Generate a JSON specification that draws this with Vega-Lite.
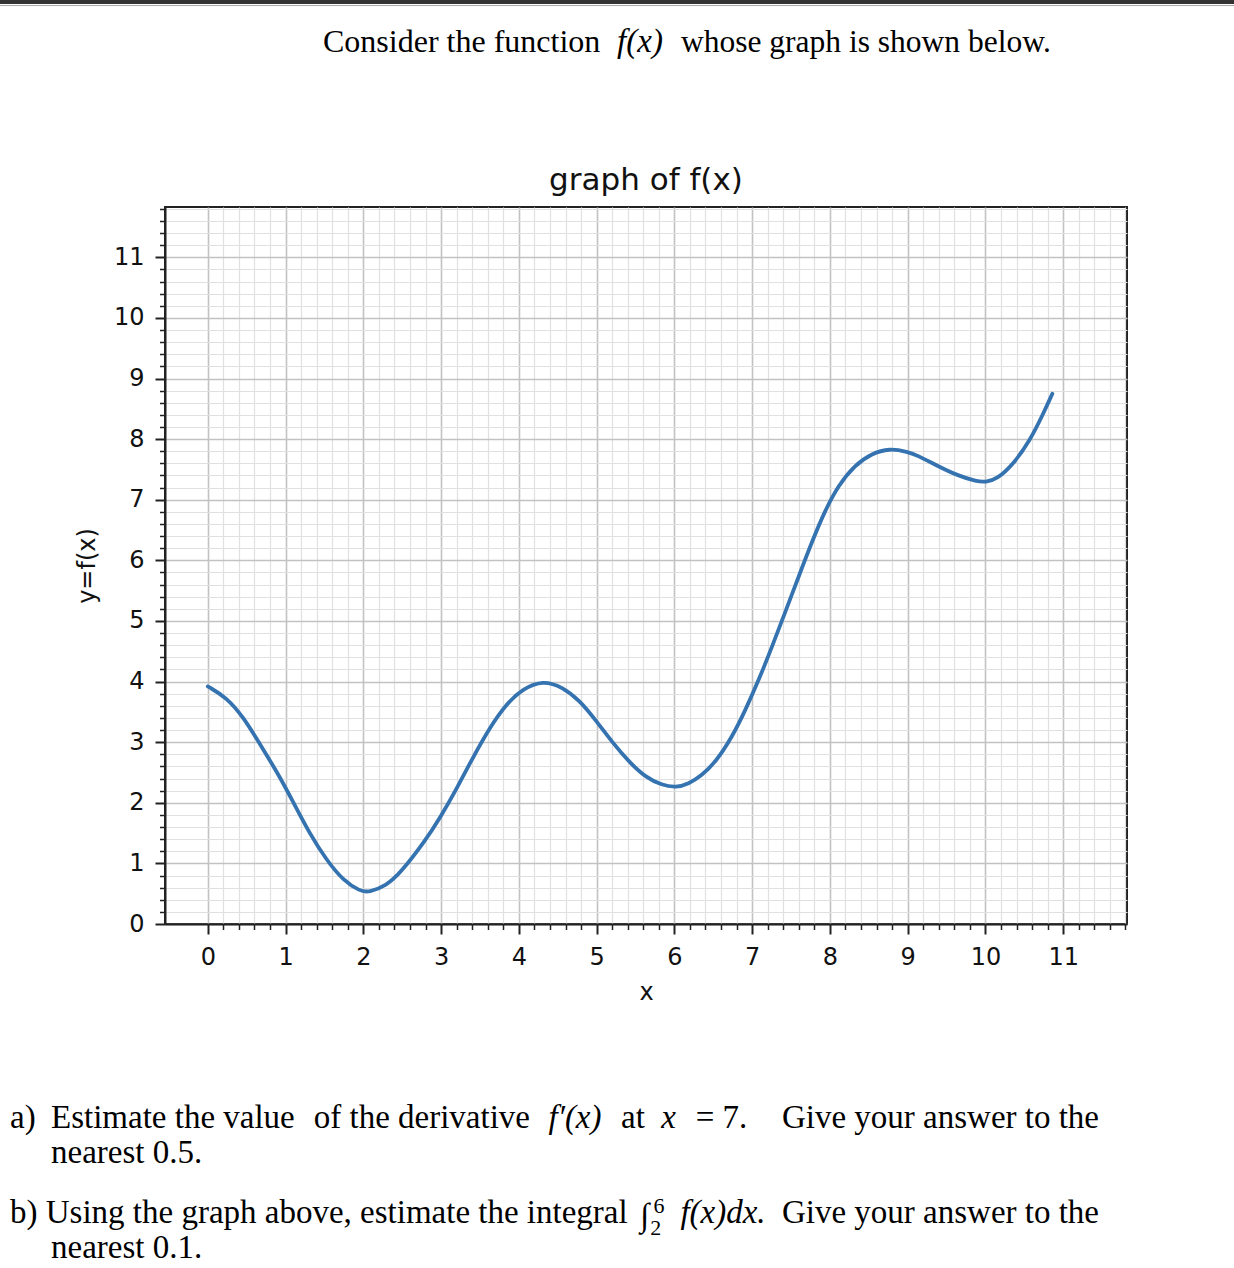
{
  "$schema": "https://vega.github.io/schema/vega-lite/v6.json",
  "width": 962,
  "height": 717,
  "autosize": {"type": "none"},
  "padding": {"left": 165, "top": 207, "right": 107, "bottom": 344},
  "background": "white",
  "config": {"view": {"stroke": "#222222", "strokeWidth": 2}},
  "datasets": {
    "curve": [
      {"x": 0.00, "y": 3.92}, {"x": 0.24, "y": 3.74}, {"x": 0.46, "y": 3.41}, {"x": 0.67, "y": 2.97},
      {"x": 0.89, "y": 2.51}, {"x": 1.10, "y": 2.01}, {"x": 1.31, "y": 1.49}, {"x": 1.53, "y": 1.05},
      {"x": 1.74, "y": 0.72}, {"x": 1.96, "y": 0.54}, {"x": 2.07, "y": 0.52}, {"x": 2.30, "y": 0.64},
      {"x": 2.47, "y": 0.83}, {"x": 2.80, "y": 1.38}, {"x": 2.99, "y": 1.76}, {"x": 3.20, "y": 2.23},
      {"x": 3.41, "y": 2.75}, {"x": 3.63, "y": 3.25}, {"x": 3.84, "y": 3.63}, {"x": 4.05, "y": 3.88},
      {"x": 4.31, "y": 4.02}, {"x": 4.56, "y": 3.91}, {"x": 4.78, "y": 3.69}, {"x": 4.99, "y": 3.36},
      {"x": 5.20, "y": 3.00}, {"x": 5.42, "y": 2.67}, {"x": 5.63, "y": 2.42}, {"x": 5.84, "y": 2.29},
      {"x": 6.02, "y": 2.25}, {"x": 6.18, "y": 2.31}, {"x": 6.35, "y": 2.45}, {"x": 6.53, "y": 2.67},
      {"x": 6.74, "y": 3.08}, {"x": 6.91, "y": 3.52}, {"x": 7.09, "y": 4.04}, {"x": 7.26, "y": 4.59},
      {"x": 7.43, "y": 5.16}, {"x": 7.60, "y": 5.74}, {"x": 7.77, "y": 6.31}, {"x": 7.94, "y": 6.83},
      {"x": 8.11, "y": 7.24}, {"x": 8.32, "y": 7.57}, {"x": 8.53, "y": 7.76}, {"x": 8.77, "y": 7.85},
      {"x": 9.00, "y": 7.79}, {"x": 9.13, "y": 7.73}, {"x": 9.38, "y": 7.56}, {"x": 9.64, "y": 7.40},
      {"x": 9.89, "y": 7.30}, {"x": 10.00, "y": 7.29}, {"x": 10.15, "y": 7.34}, {"x": 10.36, "y": 7.59},
      {"x": 10.57, "y": 7.97}, {"x": 10.74, "y": 8.41}, {"x": 10.86, "y": 8.75}
    ]
  },
  "layer": [
    {
      "data": {"name": "curve"},
      "mark": {"type": "line", "interpolate": "basis", "color": "#3573b0", "strokeWidth": 3.8, "strokeCap": "round"},
      "encoding": {
        "x": {
          "field": "x", "type": "quantitative",
          "scale": {"domain": [-0.55, 11.82], "nice": false, "zero": false},
          "axis": {
            "values": [0,0.2,0.4,0.6,0.8,1,1.2,1.4,1.6,1.8,2,2.2,2.4,2.6,2.8,3,3.2,3.4,3.6,3.8,4,4.2,4.4,4.6,4.8,5,5.2,5.4,5.6,5.8,6,6.2,6.4,6.6,6.8,7,7.2,7.4,7.6,7.8,8,8.2,8.4,8.6,8.8,9,9.2,9.4,9.6,9.8,10,10.2,10.4,10.6,10.8,11,11.2,11.4,11.6,11.8],
            "tickCount": 200,
            "labelExpr": "abs(datum.value - round(datum.value)) < 0.01 ? format(datum.value, 'd') : ''",
            "labelOverlap": false, "labelFlush": false, "labelBound": false,
            "labelFont": "DejaVu Sans", "labelFontSize": 24, "labelColor": "#111111", "labelPadding": 11,
            "title": "x", "titleFont": "DejaVu Sans", "titleFontSize": 24, "titleFontWeight": "normal", "titleColor": "#111111", "titlePadding": 11,
            "domain": true, "domainColor": "#222222", "domainWidth": 2,
            "ticks": true, "tickColor": "#222222",
            "tickSize": {"condition": {"test": "abs(datum.value - round(datum.value)) < 0.01", "value": 10}, "value": 5.5},
            "tickWidth": {"condition": {"test": "abs(datum.value - round(datum.value)) < 0.01", "value": 2}, "value": 1.5},
            "grid": true,
            "gridColor": {"condition": {"test": "abs(datum.value - round(datum.value)) < 0.01", "value": "#c2c2c2"}, "value": "#e0e0e0"},
            "gridWidth": {"condition": {"test": "abs(datum.value - round(datum.value)) < 0.01", "value": 1.6}, "value": 1.2}
          }
        },
        "y": {
          "field": "y", "type": "quantitative",
          "scale": {"domain": [0, 11.83], "nice": false, "zero": false},
          "axis": {
            "values": [0,0.2,0.4,0.6,0.8,1,1.2,1.4,1.6,1.8,2,2.2,2.4,2.6,2.8,3,3.2,3.4,3.6,3.8,4,4.2,4.4,4.6,4.8,5,5.2,5.4,5.6,5.8,6,6.2,6.4,6.6,6.8,7,7.2,7.4,7.6,7.8,8,8.2,8.4,8.6,8.8,9,9.2,9.4,9.6,9.8,10,10.2,10.4,10.6,10.8,11,11.2,11.4,11.6,11.8],
            "tickCount": 200,
            "labelExpr": "abs(datum.value - round(datum.value)) < 0.01 ? format(datum.value, 'd') : ''",
            "labelOverlap": false, "labelFlush": false, "labelBound": false,
            "labelFont": "DejaVu Sans", "labelFontSize": 24, "labelColor": "#111111", "labelPadding": 11,
            "title": "y=f(x)", "titleFont": "DejaVu Sans", "titleFontSize": 24, "titleFontWeight": "normal", "titleColor": "#111111", "titlePadding": 14,
            "domain": true, "domainColor": "#222222", "domainWidth": 2,
            "ticks": true, "tickColor": "#222222",
            "tickSize": {"condition": {"test": "abs(datum.value - round(datum.value)) < 0.01", "value": 10}, "value": 5.5},
            "tickWidth": {"condition": {"test": "abs(datum.value - round(datum.value)) < 0.01", "value": 2}, "value": 1.5},
            "grid": true,
            "gridColor": {"condition": {"test": "abs(datum.value - round(datum.value)) < 0.01", "value": "#c2c2c2"}, "value": "#e0e0e0"},
            "gridWidth": {"condition": {"test": "abs(datum.value - round(datum.value)) < 0.01", "value": 1.6}, "value": 1.2}
          }
        }
      }
    },
    {
      "data": {"values": [{"label": "graph of f(x)"}]},
      "mark": {"type": "text", "font": "DejaVu Sans", "fontSize": 31, "align": "center", "baseline": "alphabetic", "color": "#111111"},
      "encoding": {"x": {"datum": 5.635}, "y": {"datum": 12.11}, "text": {"field": "label"}}
    },
    {
      "data": {"values": [{"label": "Consider the function"}]},
      "mark": {"type": "text", "font": "Liberation Serif", "fontSize": 32, "align": "left", "baseline": "alphabetic", "color": "#000000"},
      "encoding": {"x": {"datum": 1.482}, "y": {"datum": 14.387}, "text": {"field": "label"}}
    },
    {
      "data": {"values": [{"label": "f(x)"}]},
      "mark": {"type": "text", "font": "Liberation Serif", "fontStyle": "italic", "fontSize": 33, "align": "center", "baseline": "alphabetic", "color": "#000000"},
      "encoding": {"x": {"datum": 5.558}, "y": {"datum": 14.387}, "text": {"field": "label"}}
    },
    {
      "data": {"values": [{"label": "whose graph is shown below."}]},
      "mark": {"type": "text", "font": "Liberation Serif", "fontSize": 31.5, "align": "left", "baseline": "alphabetic", "color": "#000000"},
      "encoding": {"x": {"datum": 6.085}, "y": {"datum": 14.387}, "text": {"field": "label"}}
    },
    {
      "data": {"values": [{"label": "a)"}]},
      "mark": {"type": "text", "font": "Liberation Serif", "fontSize": 33, "align": "left", "baseline": "alphabetic", "color": "#000000"},
      "encoding": {"x": {"datum": -2.543}, "y": {"datum": -3.366}, "text": {"field": "label"}}
    },
    {
      "data": {"values": [{"label": "Estimate the value"}]},
      "mark": {"type": "text", "font": "Liberation Serif", "fontSize": 33, "align": "left", "baseline": "alphabetic", "color": "#000000"},
      "encoding": {"x": {"datum": -2.016}, "y": {"datum": -3.366}, "text": {"field": "label"}}
    },
    {
      "data": {"values": [{"label": "of the derivative"}]},
      "mark": {"type": "text", "font": "Liberation Serif", "fontSize": 33, "align": "right", "baseline": "alphabetic", "color": "#000000"},
      "encoding": {"x": {"datum": 4.143}, "y": {"datum": -3.366}, "text": {"field": "label"}}
    },
    {
      "data": {"values": [{"label": "f′(x)"}]},
      "mark": {"type": "text", "font": "Liberation Serif", "fontStyle": "italic", "fontSize": 33, "align": "center", "baseline": "alphabetic", "color": "#000000"},
      "encoding": {"x": {"datum": 4.722}, "y": {"datum": -3.366}, "text": {"field": "label"}}
    },
    {
      "data": {"values": [{"label": "at"}]},
      "mark": {"type": "text", "font": "Liberation Serif", "fontSize": 33, "align": "center", "baseline": "alphabetic", "color": "#000000"},
      "encoding": {"x": {"datum": 5.468}, "y": {"datum": -3.366}, "text": {"field": "label"}}
    },
    {
      "data": {"values": [{"label": "x"}]},
      "mark": {"type": "text", "font": "Liberation Serif", "fontStyle": "italic", "fontSize": 33, "align": "center", "baseline": "alphabetic", "color": "#000000"},
      "encoding": {"x": {"datum": 5.924}, "y": {"datum": -3.366}, "text": {"field": "label"}}
    },
    {
      "data": {"values": [{"label": "= 7."}]},
      "mark": {"type": "text", "font": "Liberation Serif", "fontSize": 33, "align": "center", "baseline": "alphabetic", "color": "#000000"},
      "encoding": {"x": {"datum": 6.606}, "y": {"datum": -3.366}, "text": {"field": "label"}}
    },
    {
      "data": {"values": [{"label": "Give your answer to the"}]},
      "mark": {"type": "text", "font": "Liberation Serif", "fontSize": 33, "align": "right", "baseline": "alphabetic", "color": "#000000"},
      "encoding": {"x": {"datum": 11.46}, "y": {"datum": -3.366}, "text": {"field": "label"}}
    },
    {
      "data": {"values": [{"label": "nearest 0.5."}]},
      "mark": {"type": "text", "font": "Liberation Serif", "fontSize": 33, "align": "left", "baseline": "alphabetic", "color": "#000000"},
      "encoding": {"x": {"datum": -2.016}, "y": {"datum": -3.943}, "text": {"field": "label"}}
    },
    {
      "data": {"values": [{"label": "b) Using the graph above, estimate the integral"}]},
      "mark": {"type": "text", "font": "Liberation Serif", "fontSize": 33, "align": "left", "baseline": "alphabetic", "color": "#000000"},
      "encoding": {"x": {"datum": -2.543}, "y": {"datum": -4.933}, "text": {"field": "label"}}
    },
    {
      "data": {"values": [{"label": "∫"}]},
      "mark": {"type": "text", "font": "Liberation Serif", "fontSize": 33, "align": "left", "baseline": "alphabetic", "color": "#000000"},
      "encoding": {"x": {"datum": 5.56}, "y": {"datum": -4.98}, "text": {"field": "label"}}
    },
    {
      "data": {"values": [{"label": "6"}]},
      "mark": {"type": "text", "font": "Liberation Serif", "fontSize": 22, "align": "left", "baseline": "alphabetic", "color": "#000000"},
      "encoding": {"x": {"datum": 5.73}, "y": {"datum": -4.768}, "text": {"field": "label"}}
    },
    {
      "data": {"values": [{"label": "2"}]},
      "mark": {"type": "text", "font": "Liberation Serif", "fontSize": 22, "align": "left", "baseline": "alphabetic", "color": "#000000"},
      "encoding": {"x": {"datum": 5.69}, "y": {"datum": -5.131}, "text": {"field": "label"}}
    },
    {
      "data": {"values": [{"label": "f(x)dx."}]},
      "mark": {"type": "text", "font": "Liberation Serif", "fontStyle": "italic", "fontSize": 33, "align": "center", "baseline": "alphabetic", "color": "#000000"},
      "encoding": {"x": {"datum": 6.625}, "y": {"datum": -4.933}, "text": {"field": "label"}}
    },
    {
      "data": {"values": [{"label": "Give your answer to the"}]},
      "mark": {"type": "text", "font": "Liberation Serif", "fontSize": 33, "align": "right", "baseline": "alphabetic", "color": "#000000"},
      "encoding": {"x": {"datum": 11.46}, "y": {"datum": -4.933}, "text": {"field": "label"}}
    },
    {
      "data": {"values": [{"label": "nearest 0.1."}]},
      "mark": {"type": "text", "font": "Liberation Serif", "fontSize": 33, "align": "left", "baseline": "alphabetic", "color": "#000000"},
      "encoding": {"x": {"datum": -2.016}, "y": {"datum": -5.511}, "text": {"field": "label"}}
    },
    {
      "data": {"values": [{"band": "frame"}]},
      "mark": {"type": "rule", "color": "#333333", "strokeWidth": 4},
      "encoding": {"x": {"datum": -2.7}, "x2": {"datum": 13.2}, "y": {"datum": 15.212}}
    },
    {
      "data": {"values": [{"band": "frame"}]},
      "mark": {"type": "rule", "color": "#a8a8a8", "strokeWidth": 1},
      "encoding": {"x": {"datum": -2.7}, "x2": {"datum": 13.2}, "y": {"datum": 15.154}}
    }
  ]
}
